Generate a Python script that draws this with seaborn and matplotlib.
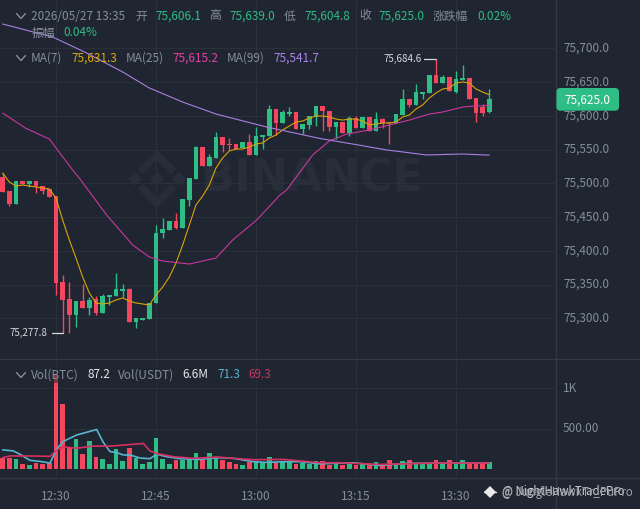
import numpy as np
import pandas as pd
import seaborn as sns
import matplotlib
matplotlib.use("Agg")
import matplotlib.pyplot as plt
from matplotlib.lines import Line2D
from matplotlib.patches import Polygon, Rectangle, FancyBboxPatch
from matplotlib.transforms import IdentityTransform, ScaledTranslation

# ---- data ----
opens = [75509.4,75488.6,75469.3,75503.4,75499.0,75503.4,75496.0,75491.6,75481.2,75353.8,
         75328.6,75304.9,75325.7,75315.3,75328.6,75307.9,75331.6,75333.1,75340.5,75343.4,
         75294.5,75297.5,75299.0,75322.7,75426.4,75430.8,75444.2,75433.8,75475.3,75506.4,
         75553.8,75525.7,75537.5,75568.6,75558.2,75558.2,75552.3,75561.2,75542.0,75568.6,
         75570.1,75610.1,75589.3,75602.6,75605.6,75580.4,75586.4,75598.2,75614.5,75607.1,
         75583.4,75590.8,75574.5,75596.7,75581.9,75598.2,75577.5,75595.2,75590.8,75589.3,
         75601.2,75624.9,75616.0,75632.3,75633.8,75660.4,75648.6,75657.5,75635.2,75653.0,
         75656.0,75626.4,75613.0,75606.1]
closes = [75487.1,75469.3,75503.4,75499.0,75503.4,75496.0,75488.6,75479.7,75352.3,75327.1,
          75304.9,75325.7,75315.3,75327.1,75307.9,75333.1,75334.5,75343.4,75343.4,75294.5,
          75300.5,75300.5,75322.7,75426.4,75432.3,75444.2,75433.8,75476.8,75507.9,75553.8,
          75525.7,75539.0,75568.6,75556.8,75556.8,75550.8,75561.2,75542.0,75570.1,75571.6,
          75610.1,75589.3,75605.6,75605.6,75580.4,75587.8,75599.7,75614.5,75607.1,75583.4,
          75590.8,75574.5,75596.7,75581.9,75598.2,75577.5,75595.2,75589.3,75589.3,75602.6,
          75624.9,75616.0,75635.2,75635.2,75660.4,75648.6,75657.5,75636.7,75654.5,75656.0,
          75624.9,75604.1,75604.1,75625.0]
highs = [75515.3,75488.6,75503.4,75503.4,75503.4,75503.4,75496.0,75491.6,75481.2,75364.2,
         75353.8,75325.7,75350.8,75331.6,75333.1,75336.0,75334.5,75367.1,75350.8,75344.9,
         75300.5,75300.5,75322.7,75438.2,75448.6,75444.2,75456.0,75476.8,75507.9,75555.3,
         75553.8,75543.4,75576.0,75568.6,75567.1,75558.2,75561.2,75573.0,75583.4,75571.6,
         75616.0,75610.1,75608.6,75613.0,75605.6,75587.8,75599.7,75614.5,75614.5,75607.1,
         75590.8,75590.8,75599.7,75599.7,75598.2,75598.2,75605.6,75596.7,75590.8,75602.6,
         75639.7,75624.9,75647.1,75635.2,75660.4,75684.6,75660.4,75657.5,75666.4,75675.3,
         75656.0,75626.4,75617.5,75639.0]
lows = [75487.1,75466.4,75469.3,75499.0,75494.5,75485.6,75484.2,75479.7,75334.5,75277.8,
        75278.2,75287.1,75315.3,75304.9,75304.9,75307.9,75319.7,75333.1,75331.6,75294.5,
        75285.7,75297.5,75299.0,75322.7,75419.0,75430.8,75432.3,75433.8,75466.4,75506.4,
        75525.7,75525.7,75537.5,75546.4,75549.4,75550.8,75552.3,75542.0,75542.0,75550.8,
        75570.1,75571.6,75589.3,75599.7,75580.4,75573.0,75580.4,75584.9,75577.5,75577.5,
        75565.6,75574.5,75570.1,75581.9,75581.9,75577.5,75577.5,75581.9,75558.2,75589.3,
        75601.2,75613.0,75616.0,75624.9,75633.8,75648.6,75648.6,75636.7,75633.8,75653.0,
        75624.9,75590.8,75599.7,75604.8]
volumes = [135,127,114,51,42,68,55,68,1173,800,275,368,178,343,148,114,59,241,89,254,
           131,51,76,381,114,51,110,110,123,199,110,199,127,102,80,59,47,80,89,72,
           148,80,85,85,51,72,51,93,93,38,51,42,59,38,51,42,85,51,102,38,
           93,110,72,51,59,106,59,110,59,110,85,80,80,87.2]
ma7 = [75515.3,75501.9,75496.0,75497.5,75496.0,75494.5,75493.0,75491.6,75478.2,75445.6,
       75416.0,75389.3,75361.2,75337.5,75322.7,75321.2,75322.7,75327.1,75330.1,75325.7,
       75322.7,75321.2,75319.7,75334.5,75346.4,75361.2,75381.9,75408.6,75438.2,75467.9,
       75481.2,75497.5,75522.7,75537.5,75547.9,75550.8,75550.8,75553.8,75558.2,75559.7,
       75567.1,75571.6,75579.0,75584.9,75590.8,75592.3,75596.7,75599.7,75599.7,75598.2,
       75595.2,75593.7,75595.2,75595.2,75592.3,75586.4,75587.9,75589.3,75589.3,75590.8,
       75598.2,75601.2,75610.1,75616.0,75626.4,75633.8,75639.7,75641.2,75648.6,75650.1,
       75648.6,75639.7,75635.2,75631.3]
ma25_i = [0,3.4,7,10.5,11.6,15.6,19.5,22,24,28,32,34.5,38.1,41.6,42.6,46.5,49,51.6,55,58,61,64,66,69,71,73]
ma25 = [75604.1,75581.9,75565.6,75519.7,75506.4,75453.0,75408.6,75390.8,75384.9,75380.4,75389.3,
        75416.0,75445.6,75482.7,75490.1,75542.0,75562.7,75573.0,75579.0,75586.4,75593.7,75602.6,
        75605.6,75613.0,75614.5,75615.2]
ma99_i = [0,7.5,12.6,18,22,27,32,39.6,47.6,52.5,57.6,63.6,69,73]
ma99 = [75736.0,75716.7,75693.0,75664.9,75641.2,75620.4,75602.6,75583.4,75566.4,75558.2,75549.4,
        75542.0,75543.4,75541.7]
volblue_i = [0,1.6,2.6,4.1,5.6,7.1,8.1,9.1,11.1,12.6,14.1,15.1,16.1,17.1,18.1,19.1,20.6,22.1,23.1,
             24.6,26.6,29.6,32.1,34.6,37.6,39.6,42.1,44.6,47.6,52.6,56.6,60.6,64.6,73]
volblue = [233,220,178,102,89,68,241,339,419,453,487,326,212,199,169,169,131,123,178,
           148,123,114,136,127,85,76,85,85,59,72,38,64,68,71.3]
volred_i = [0,1.1,3.6,7.1,8.1,9.1,11.1,13.6,16.1,18.6,21.1,22.1,23.1,25.6,28.6,32.1,34.6,37.6,42.1,
            47.6,50.6,56.6,60.6,64.6,73]
volred = [136,157,157,152,229,271,254,280,280,296,313,220,186,148,127,144,127,110,114,
          72,72,51,59,68,69.3]
price_ticks = [75300,75350,75400,75450,75500,75550,75600,75650,75700]
vol_ticks = [500,1000]
vol_tick_labels = ["500.00","1K"]
time_ticks = [8,23,38,53,68]
time_labels = ["12:30","12:45","13:00","13:15","13:30"]
last_price = 75625.0

# ---- style ----
BG = "#1f2631"; GRID = "#293039"; EDGE = "#323944"; GRAY = "#848e9c"
GREEN = "#2ebd85"; RED = "#f6465d"
C7 = "#d9a406"; C25 = "#c9379d"; C99 = "#a97fe0"
sns.set_theme(style="dark")
FONT = ["Noto Sans CJK SC", "DejaVu Sans"]
plt.rcParams["font.family"] = FONT
plt.rcParams["axes.unicode_minus"] = False

W, H = 640, 509
fig = plt.figure(figsize=(6.4, 5.09), dpi=100, facecolor=BG)
ax = fig.add_axes([0, 1-358/H, 555/W, 358/H], facecolor="none")
axv = fig.add_axes([0, 1-477/H, 555/W, 119/H], facecolor="none")

fx = lambda x: x/W
fy = lambda y: 1-y/H

# watermark
WM = "#272e39"
def diamond(cx, cy, r):
    return [(fx(cx-r), fy(cy)), (fx(cx), fy(cy-r)), (fx(cx+r), fy(cy)), (fx(cx), fy(cy+r))]
for p in [diamond(157, 179, 7), diamond(135, 179, 7), diamond(179, 179, 7)]:
    fig.add_artist(Polygon(p, closed=True, transform=fig.transFigure, fc=WM, ec="none", zorder=-1))
for sgn in (1, -1):
    cy = 179
    pts = [(157, cy-sgn*29), (176, cy-sgn*10), (171, cy-sgn*5), (157, cy-sgn*19), (143, cy-sgn*5), (138, cy-sgn*10)]
    fig.add_artist(Polygon([(fx(a), fy(b)) for a, b in pts], closed=True, transform=fig.transFigure,
                           fc=WM, ec="none", zorder=-1))
fig.text(fx(201), fy(178.5), "BINANCE", color=WM, fontsize=32, fontweight="bold", va="center",
         ha="left", family="DejaVu Sans", zorder=-1)

# candles
idx = np.arange(len(opens))
o, c, h, l = map(np.array, (opens, closes, highs, lows))
colors = [GREEN if b >= a else RED for a, b in zip(o, c)]
ax.vlines(idx, l, h, colors=colors, linewidth=1, zorder=2)
ax.bar(idx, np.maximum(np.abs(c-o), 1.2), bottom=np.minimum(o, c), width=0.72, color=colors, linewidth=0, zorder=3)

# moving averages
sns.lineplot(x=idx, y=ma7, ax=ax, color=C7, linewidth=0.8, estimator=None, sort=False, zorder=4)
sns.lineplot(x=ma25_i, y=ma25, ax=ax, color=C25, linewidth=0.8, estimator=None, sort=False, zorder=4)
sns.lineplot(x=ma99_i, y=ma99, ax=ax, color=C99, linewidth=0.8, estimator=None, sort=False, zorder=4)

ax.set_xlim(-0.4, 82.85)
ax.set_ylim(75241.2, 75771.55)
ax.set_xticks(time_ticks)
ax.set_yticks(price_ticks)
ax.set_yticklabels([f"{v:,.1f}" for v in price_ticks])
ax.yaxis.tick_right()
ax.tick_params(axis="y", length=0, pad=5.8, labelsize=8.5, labelcolor=GRAY)
ax.tick_params(axis="x", length=0, labelbottom=False)
ax.grid(True, color=GRID, linewidth=0.8, zorder=0)
ax.set_axisbelow(True)
ax.set_xlabel(""); ax.set_ylabel("")
for s in ax.spines.values():
    s.set_visible(False)

# high / low marks
hi_i = int(np.argmax(h)); lo_i = int(np.argmin(l))
ax.plot([hi_i-1.8, hi_i], [h[hi_i]]*2, color="#d5d9df", lw=0.9, zorder=5)
ax.text(hi_i-2.2, h[hi_i], f"{h[hi_i]:,.1f}", color="#d5d9df", fontsize=7, ha="right", va="center")
ax.plot([lo_i-1.6, lo_i], [l[lo_i]]*2, color="#d5d9df", lw=0.9, zorder=5)
ax.text(lo_i-2.3, l[lo_i], f"{l[lo_i]:,.1f}", color="#d5d9df", fontsize=7, ha="right", va="center")

# volume panel
vol_df = pd.DataFrame({"i": idx, "v": volumes, "d": ["up" if b >= a else "down" for a, b in zip(o, c)]})
sns.barplot(data=vol_df, x="i", y="v", hue="d", palette={"up": GREEN, "down": RED}, native_scale=True,
            dodge=False, width=0.72, saturation=1, legend=False, ax=axv, linewidth=0, zorder=3)
sns.lineplot(x=volblue_i, y=volblue, ax=axv, color="#55b5cf", linewidth=1.2, estimator=None, sort=False, zorder=4)
sns.lineplot(x=volred_i, y=volred, ax=axv, color="#d6305f", linewidth=1.2, estimator=None, sort=False, zorder=5)
axv.set_xlim(-0.4, 82.85)
axv.set_ylim(-106, 1381)
axv.set_xticks(time_ticks)
axv.set_xticklabels(time_labels)
axv.set_yticks(vol_ticks)
axv.set_yticklabels(vol_tick_labels)
axv.yaxis.tick_right()
axv.tick_params(axis="y", length=0, pad=5.8, labelsize=8.5, labelcolor=GRAY)
axv.tick_params(axis="x", length=0, pad=9, labelsize=8.5, labelcolor=GRAY)
axv.grid(True, color=GRID, linewidth=0.8, zorder=0)
axv.set_axisbelow(True)
axv.set_xlabel(""); axv.set_ylabel("")
for s in axv.spines.values():
    s.set_visible(False)

# lift the right-hand tick labels to sit on their grid lines
lift = ScaledTranslation(0, 1.5/100, fig.dpi_scale_trans)
for a in (ax, axv):
    for lab in a.get_yticklabels():
        lab.set_transform(lab.get_transform() + lift)

# panel frame lines
for y in (358.5, 477.5):
    fig.add_artist(Line2D([0, 1], [fy(y)]*2, color=EDGE, lw=1, transform=fig.transFigure))
fig.add_artist(Line2D([fx(555.5)]*2, [0, 1], color=EDGE, lw=1, transform=fig.transFigure))

# last price tag
fig.add_artist(FancyBboxPatch((556.5, H-110.7), 62.5, 22.7, boxstyle="round,pad=0,rounding_size=4",
                              fc=GREEN, ec="none", transform=IdentityTransform(), zorder=15))
ypix = (last_price - 75241.2)/(75771.55-75241.2)*358 + (H-358)
fig.text(fx(587.5), fy(100.5), f"{last_price:,.1f}", color="white", fontsize=8.5, ha="center", va="center", zorder=16)

# header texts
def T(x, y, s, col=GRAY, size=8.5):
    fig.text(fx(x), fy(y), s, color=col, fontsize=size, ha="left", va="center", zorder=20)

row1 = [(31,"2026/05/27 13:35",GRAY),(135,"开",GRAY),(155,"75,606.1",GREEN),(209,"高",GRAY),(229,"75,639.0",GREEN),
        (284,"低",GRAY),(304,"75,604.8",GREEN),(359,"收",GRAY),(378,"75,625.0",GREEN),(433,"涨跌幅",GRAY),(477,"0.02%",GREEN)]
for x, s, col in row1:
    T(x, 16, s, col)
T(32, 33, "振幅"); T(63, 33, "0.04%", GREEN)
row2 = [(31,"MA(7)",GRAY),(71,"75,631.3","#e0a90c"),(126,"MA(25)",GRAY),(172,"75,615.2","#e83fa8"),
        (227,"MA(99)",GRAY),(273,"75,541.7","#ad82ee")]
for x, s, col in row2:
    T(x, 58, s, col)
fig.add_artist(Rectangle((fx(28), fy(383)), 250/W, 16/H, transform=fig.transFigure, fc=BG, ec="none", alpha=0.55, zorder=19))
row3 = [(31,"Vol(BTC)",GRAY),(87,"87.2","#e6e8ea"),(118,"Vol(USDT)",GRAY),(182,"6.6M","#e6e8ea"),
        (217,"71.3","#55b5cf"),(248,"69.3","#c9375a")]
for x, s, col in row3:
    T(x, 375, s, col)
for y in (16, 58, 375):
    fig.add_artist(Line2D([fx(16.5), fx(21), fx(25.5)], [fy(y-2.5), fy(y+2.5), fy(y-2.5)], color=GRAY, lw=1,
                          transform=fig.transFigure, zorder=20))

# bottom-right overlaid credit
fig.add_artist(Line2D([fx(490)], [fy(492)], marker="D", ms=6, color="#e8e8e8", mew=0, transform=fig.transFigure, zorder=21))
fig.add_artist(Line2D([fx(484), fx(496)], [fy(492)]*2, color="#e8e8e8", lw=1, transform=fig.transFigure, zorder=21))
T(502, 492, "@ NightHawkTradePro", "#c9ccd0", 8.3)
T(502, 492.5, "@ JungleHawkTr_PuPro", "#9ea3aa", 8.3)

fig.savefig("out.png", dpi=100, facecolor=BG)
